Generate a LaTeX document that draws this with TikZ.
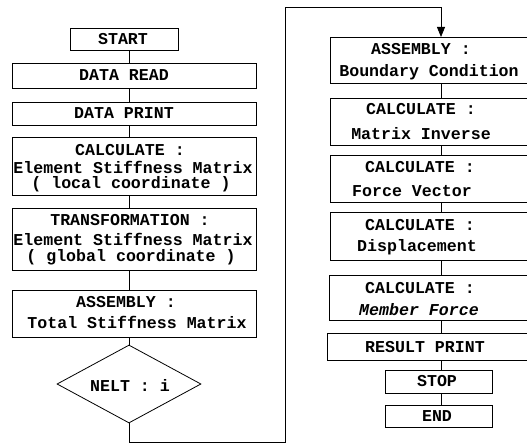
\documentclass[tikz,border=0pt]{standalone}
\usepackage{fontspec}
\newfontfamily\mono{Liberation Mono}
\usetikzlibrary{arrows.meta,shapes.geometric}
\tikzset{
  box/.style={draw, line width=0.8pt, inner sep=0pt, anchor=north west},
  lbl/.style={font=\mono\bfseries\fontsize{16.6}{18}\selectfont, inner sep=0pt, anchor=center},
  ilbl/.style={lbl, font=\mono\bfseries\itshape\fontsize{16.6}{18}\selectfont},
  conn/.style={line width=0.8pt},
  dec/.style={draw, diamond, line width=0.8pt, inner sep=0pt, minimum width=144pt, minimum height=78pt, aspect=1.85}
}
\begin{document}
\begin{tikzpicture}[x=1pt,y=-1pt]
\useasboundingbox (0,0) rectangle (527,444);
\clip (0,0) rectangle (527,444);
% left column boxes
\node[box, minimum width=108pt, minimum height=22pt] (start) at (70,28) {};
\node[box, minimum width=244pt, minimum height=25pt] (read) at (12,63) {};
\node[box, minimum width=244pt, minimum height=23pt] (print) at (12,102) {};
\node[box, minimum width=244pt, minimum height=58pt] (calc) at (12,137) {};
\node[box, minimum width=244pt, minimum height=62pt] (trans) at (12,208) {};
\node[box, minimum width=244pt, minimum height=47pt] (asm) at (12,290) {};
\node[dec] (nelt) at (129,384) {};
% left texts
\node[lbl] (t1) at (123,39) {START};
\node[lbl] (t2) at (124,75.5) {DATA READ};
\node[lbl] (t3) at (124,113.5) {DATA PRINT};
\node[lbl] (t4) at (130,150) {CALCULATE :};
\node[lbl] (t5) at (133,167) {Element Stiffness Matrix};
\node[lbl] (t6) at (131,184) {( local coordinate )};
\node[lbl] (t7) at (130,220) {TRANSFORMATION :};
\node[lbl] (t8) at (133,239) {Element Stiffness Matrix};
\node[lbl] (t9) at (131,257) {( global coordinate )};
\node[lbl] (t10) at (126,302) {ASSEMBLY :};
\node[lbl] (t11) at (137,322) {Total Stiffness Matrix};
\node[lbl] (t12) at (130,385) {NELT : i};
% right column boxes
\node[box, minimum width=220pt, minimum height=46pt] (bc) at (330,37) {};
\node[box, minimum width=220pt, minimum height=47pt] (inv) at (330,98) {};
\node[box, minimum width=220pt, minimum height=47pt] (fv) at (330,155) {};
\node[box, minimum width=220pt, minimum height=48pt] (disp) at (330,212) {};
\node[box, minimum width=220pt, minimum height=45pt] (mf) at (329,275) {};
\node[box, minimum width=223pt, minimum height=27pt] (res) at (327,333) {};
\node[box, minimum width=107pt, minimum height=23pt] (stop) at (385,370) {};
\node[box, minimum width=107pt, minimum height=22pt] (end) at (385,405) {};
% right texts
\node[lbl] (r1) at (421,49) {ASSEMBLY :};
\node[lbl] (r2) at (429,72) {Boundary Condition};
\node[lbl] (r3) at (421,109) {CALCULATE :};
\node[lbl] (r4) at (421,134) {Matrix Inverse};
\node[lbl] (r5) at (420,167) {CALCULATE :};
\node[lbl] (r6) at (412,191) {Force Vector};
\node[lbl] (r7) at (420,225) {CALCULATE :};
\node[lbl] (r8) at (417,247) {Displacement};
\node[lbl] (r9) at (420,288) {CALCULATE :};
\node[ilbl] (r10) at (419,310) {Member Force};
\node[lbl] (r11) at (425,347) {RESULT PRINT};
\node[lbl] (r12) at (437,381) {STOP};
\node[lbl] (r13) at (437,416) {END};
% connector guides
\coordinate (lx) at (129,0);
\coordinate (rx) at (441,0);
\coordinate (c1) at (129,442);
\coordinate (c2) at (285,442);
\coordinate (c3) at (285,7);
\coordinate (c4) at (441,7);
% left connectors
\draw[conn] (start.south -| lx) -- (read.north -| lx);
\draw[conn] (read.south -| lx) -- (print.north -| lx);
\draw[conn] (print.south -| lx) -- (calc.north -| lx);
\draw[conn] (calc.south -| lx) -- (trans.north -| lx);
\draw[conn] (trans.south -| lx) -- (asm.north -| lx);
\draw[conn] (asm.south -| lx) -- (nelt.north);
% loop
\draw[conn, -{Triangle[length=10pt,width=8pt]}] (nelt.south) -- (c1) -- (c2) -- (c3) -- (c4) -- (bc.north -| rx);
% right connectors
\draw[conn] (bc.south -| rx) -- (inv.north -| rx);
\draw[conn] (inv.south -| rx) -- (fv.north -| rx);
\draw[conn] (fv.south -| rx) -- (disp.north -| rx);
\draw[conn] (disp.south -| rx) -- (mf.north -| rx);
\draw[conn] (mf.south -| rx) -- (res.north -| rx);
\draw[conn] (res.south -| rx) -- (stop.north -| rx);
\draw[conn] (stop.south -| rx) -- (end.north -| rx);
\end{tikzpicture}
\end{document}
